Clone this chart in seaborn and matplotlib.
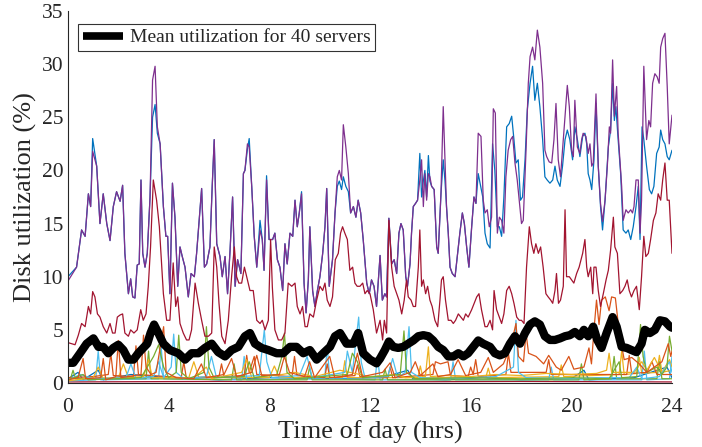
import numpy as np
import pandas as pd
import matplotlib
matplotlib.use("Agg")
import matplotlib.pyplot as plt
import seaborn as sns

# ---------------- data (hours, % utilization) ----------------
purple_t = [0, 0.34, 0.54, 0.68, 0.81, 0.90, 0.98, 1.14, 1.27, 1.40, 1.54, 1.67, 1.80, 1.93, 2.07, 2.17, 2.26, 2.40, 2.49, 2.57,
            2.66, 2.75, 2.83, 2.90, 2.97, 3.06, 3.15, 3.26, 3.36, 3.46, 3.55, 3.66, 3.79, 3.89, 3.96, 4.05, 4.15, 4.25, 4.36, 4.45,
            4.54, 4.65, 4.78, 4.89, 5.02, 5.11, 5.22, 5.31, 5.42, 5.51, 5.64, 5.73, 5.81, 5.91, 6.04, 6.13, 6.24, 6.34, 6.44, 6.54,
            6.64, 6.74, 6.87, 6.97, 7.03, 7.13, 7.20, 7.30, 7.40, 7.50, 7.63, 7.72, 7.79, 7.89, 7.99, 8.13, 8.22, 8.32, 8.42, 8.53,
            8.62, 8.71, 8.82, 8.93, 9.02, 9.11, 9.19, 9.28, 9.38, 9.46, 9.55, 9.61, 9.72, 9.81, 9.91, 10.01, 10.12, 10.21, 10.28, 10.38,
            10.51, 10.61, 10.70, 10.78, 10.87, 10.94, 11.04, 11.14, 11.23, 11.34, 11.44, 11.53, 11.63, 11.73, 11.87, 11.97, 12.06, 12.16, 12.26, 12.40,
            12.49, 12.59, 12.66, 12.75, 12.86, 12.96, 13.06, 13.15, 13.23, 13.32, 13.42, 13.49, 13.59, 13.65, 13.72, 13.81, 13.89, 13.98, 14.05, 14.12,
            14.18, 14.25, 14.32, 14.38, 14.45, 14.55, 14.65, 14.71, 14.82, 14.91, 14.98, 15.04, 15.11, 15.18, 15.27, 15.38, 15.48, 15.57, 15.67, 15.75,
            15.84, 15.93, 16.04, 16.13, 16.21, 16.30, 16.41, 16.50, 16.57, 16.66, 16.74, 16.83, 16.90, 16.98, 17.06, 17.14, 17.23, 17.32, 17.40, 17.49,
            17.59, 17.67, 17.76, 17.85, 17.93, 18.02, 18.09, 18.20, 18.29, 18.36, 18.46, 18.55, 18.65, 18.75, 18.86, 18.95, 19.02, 19.12, 19.22, 19.31,
            19.39, 19.48, 19.57, 19.65, 19.75, 19.84, 19.92, 20.01, 20.08, 20.14, 20.24, 20.34, 20.41, 20.47, 20.58, 20.67, 20.74, 20.81, 20.87, 20.98,
            21.07, 21.16, 21.24, 21.34, 21.43, 21.51, 21.56, 21.64, 21.71, 21.80, 21.86, 21.93, 22.00, 22.06, 22.17, 22.26, 22.36, 22.43, 22.49, 22.57,
            22.66, 22.73, 22.79, 22.88, 22.99, 23.08, 23.15, 23.23, 23.32, 23.41, 23.49, 23.55, 23.63, 23.72, 23.81, 23.89, 24.0]
purple_v = [9.6, 10.9, 14.4, 13.8, 17.8, 16.6, 21.8, 20.4, 15.0, 17.8, 15.0, 13.4, 16.6, 18.0, 17.1, 18.6, 12.2, 8.4, 9.8, 8.1,
            8.0, 11.1, 11.2, 19.1, 12.2, 10.9, 12.2, 17.5, 28.5, 29.8, 24.1, 22.5, 16.6, 13.8, 13.8, 8.4, 18.8, 15.6, 9.1, 12.8,
            11.9, 10.9, 8.1, 10.3, 10.0, 12.2, 15.6, 18.3, 10.9, 11.2, 12.8, 18.5, 22.9, 13.1, 11.9, 10.0, 11.9, 8.4, 12.5, 17.5,
            9.1, 11.6, 10.3, 19.7, 20.0, 22.5, 22.2, 18.5, 13.8, 10.9, 14.4, 13.5, 10.6, 19.1, 13.5, 13.5, 14.1, 11.6, 10.9, 8.7,
            13.1, 11.2, 14.1, 13.8, 17.2, 14.7, 16.0, 17.8, 9.4, 6.6, 9.7, 14.7, 8.7, 7.2, 8.7, 10.0, 12.2, 14.7, 18.3, 9.1,
            11.6, 16.0, 19.4, 20.0, 19.1, 24.3, 22.2, 19.7, 16.0, 16.6, 15.6, 17.2, 16.0, 13.5, 9.4, 8.4, 9.7, 9.1, 7.2, 12.0,
            7.8, 8.4, 8.1, 15.5, 11.2, 11.6, 10.3, 14.1, 15.0, 14.4, 10.0, 9.1, 11.2, 14.1, 16.6, 16.9, 17.2, 19.1, 21.0, 16.6,
            19.7, 17.2, 19.7, 19.4, 18.5, 18.2, 12.8, 12.2, 17.8, 26.0, 21.0, 16.6, 14.1, 10.9, 10.3, 10.0, 12.2, 14.1, 16.0, 15.0,
            12.8, 10.9, 14.7, 17.5, 16.9, 23.5, 23.2, 17.2, 16.0, 16.3, 14.7, 15.6, 25.8, 25.4, 14.1, 15.6, 15.3, 14.1, 19.4, 21.9,
            22.9, 23.2, 20.7, 19.1, 17.2, 15.0, 15.3, 21.9, 28.2, 30.7, 31.6, 30.4, 33.2, 31.6, 28.2, 21.9, 21.3, 20.8, 20.7, 22.9,
            26.3, 21.0, 19.4, 21.9, 25.1, 28.0, 26.0, 21.9, 21.3, 26.6, 22.2, 21.6, 22.9, 23.5, 23.2, 21.6, 22.5, 20.4, 20.7, 27.2,
            20.4, 16.9, 15.2, 17.2, 20.4, 24.1, 23.5, 30.4, 25.1, 27.9, 23.5, 21.0, 18.5, 15.3, 16.3, 16.0, 16.3, 16.0, 16.6, 19.1,
            19.1, 14.1, 17.2, 29.8, 22.9, 24.7, 24.1, 28.2, 29.1, 28.8, 28.2, 31.6, 32.4, 32.9, 27.9, 22.5, 25.2]

blue_t = [0, 0.34, 0.54, 0.68, 0.81, 0.90, 0.98, 1.14, 1.27, 1.40, 1.54, 1.67, 1.80, 1.93, 2.07, 2.17, 2.26, 2.40, 2.49, 2.57,
          2.66, 2.75, 2.83, 2.90, 2.97, 3.06, 3.15, 3.26, 3.36, 3.46, 3.55, 3.66, 3.79, 3.89, 3.96, 4.05, 4.15, 4.25, 4.36, 4.45,
          4.54, 4.65, 4.78, 4.89, 5.02, 5.11, 5.22, 5.31, 5.42, 5.51, 5.64, 5.73, 5.81, 5.91, 6.04, 6.13, 6.24, 6.34, 6.44, 6.54,
          6.64, 6.74, 6.87, 6.97, 7.03, 7.13, 7.20, 7.30, 7.40, 7.50, 7.63, 7.72, 7.79, 7.89, 7.99, 8.13, 8.22, 8.32, 8.42, 8.53,
          8.62, 8.71, 8.82, 8.93, 9.02, 9.11, 9.19, 9.28, 9.38, 9.46, 9.55, 9.61, 9.72, 9.81, 9.91, 10.01, 10.12, 10.21, 10.28, 10.38,
          10.51, 10.61, 10.70, 10.78, 10.87, 10.94, 11.04, 11.14, 11.23, 11.34, 11.44, 11.53, 11.63, 11.73, 11.87, 11.97, 12.06, 12.16, 12.26, 12.40,
          12.49, 12.59, 12.66, 12.75, 12.86, 12.96, 13.06, 13.15, 13.23, 13.32, 13.42, 13.49, 13.59, 13.65, 13.72, 13.81, 13.89, 13.98, 14.05, 14.12,
          14.18, 14.25, 14.32, 14.38, 14.45, 14.55, 14.65, 14.71, 14.82, 14.91, 14.98, 15.04, 15.11, 15.18, 15.27, 15.38, 15.48, 15.57, 15.67, 15.75,
          15.84, 15.93, 16.04, 16.13, 16.21, 16.30, 16.48, 16.57, 16.66, 16.77, 16.87, 16.96, 17.06, 17.14, 17.23, 17.32, 17.43, 17.53, 17.63, 17.72,
          17.80, 17.89, 17.98, 18.06, 18.16, 18.25, 18.36, 18.46, 18.55, 18.65, 18.75, 18.86, 18.95, 19.04, 19.15, 19.26, 19.35, 19.44, 19.55, 19.65,
          19.75, 19.84, 19.94, 20.05, 20.14, 20.24, 20.34, 20.45, 20.54, 20.61, 20.67, 20.74, 20.81, 20.90, 20.98, 21.07, 21.16, 21.24, 21.34, 21.47,
          21.56, 21.64, 21.71, 21.77, 21.86, 21.96, 22.06, 22.17, 22.26, 22.36, 22.46, 22.57, 22.66, 22.73, 22.81, 22.88, 22.99, 23.10, 23.19, 23.28,
          23.39, 23.49, 23.55, 23.63, 23.72, 23.81, 23.89, 24.0]
blue_v = [10.0, 10.9, 14.4, 13.8, 17.8, 16.6, 23.0, 20.4, 15.0, 17.8, 15.0, 13.4, 16.6, 18.0, 17.1, 18.6, 12.2, 8.4, 9.8, 8.1,
          8.0, 11.1, 11.2, 19.1, 12.2, 10.9, 12.2, 17.5, 25.0, 26.2, 23.5, 22.5, 16.6, 13.8, 13.8, 8.4, 18.8, 15.6, 9.1, 12.8,
          11.9, 10.9, 8.1, 10.3, 10.0, 12.2, 15.6, 18.3, 10.9, 11.2, 12.8, 18.5, 22.9, 13.1, 11.9, 10.0, 11.9, 8.4, 12.5, 17.5,
          9.1, 11.6, 10.3, 19.7, 20.0, 22.0, 23.0, 18.5, 13.8, 10.9, 15.3, 13.5, 10.6, 19.5, 13.5, 13.5, 14.1, 11.6, 10.9, 8.7,
          13.1, 11.2, 14.1, 13.8, 17.2, 14.7, 16.0, 18.0, 9.4, 6.6, 9.7, 14.7, 8.7, 7.2, 8.7, 10.0, 12.2, 14.7, 18.3, 9.1,
          11.6, 16.0, 18.5, 19.0, 18.2, 19.4, 18.5, 18.0, 16.0, 16.6, 15.6, 17.2, 16.0, 13.5, 9.4, 8.4, 9.7, 9.1, 7.2, 12.0,
          7.8, 8.4, 8.1, 15.5, 11.2, 11.6, 10.3, 14.1, 15.0, 14.4, 10.0, 9.1, 11.2, 14.1, 16.6, 16.9, 17.2, 21.6, 17.5, 19.0,
          20.0, 17.5, 21.4, 19.0, 18.5, 18.2, 12.8, 12.2, 17.8, 21.0, 19.0, 16.6, 14.1, 10.9, 10.3, 10.0, 12.2, 14.1, 16.0, 15.0,
          12.8, 10.9, 14.7, 17.5, 16.9, 19.7, 17.5, 14.1, 13.1, 12.7, 22.5, 20.0, 14.7, 14.7, 13.8, 17.5, 24.1, 24.4, 25.1, 22.9,
          20.7, 21.0, 17.2, 17.5, 21.0, 25.7, 28.2, 29.8, 26.6, 28.2, 26.0, 22.9, 19.4, 19.1, 18.8, 19.1, 20.4, 19.1, 18.5, 20.4,
          22.9, 23.8, 22.9, 21.0, 24.1, 22.9, 21.3, 23.2, 23.5, 22.5, 19.7, 19.1, 18.2, 21.0, 26.3, 20.4, 16.6, 14.4, 17.2, 22.2,
          23.8, 28.2, 24.7, 26.0, 22.9, 19.7, 14.4, 14.1, 14.4, 13.5, 14.7, 16.6, 18.5, 13.5, 24.1, 22.9, 20.4, 18.2, 17.8, 18.5,
          21.6, 22.2, 23.8, 22.9, 22.5, 21.3, 21.0, 21.9]

darkred_t = [0, 0.28, 0.41, 0.54, 0.68, 0.81, 0.90, 0.98, 1.07, 1.17, 1.27, 1.40, 1.54, 1.67, 1.77, 1.87, 1.96, 2.07, 2.17, 2.26,
             2.40, 2.49, 2.62, 2.75, 2.89, 2.99, 3.10, 3.19, 3.28, 3.39, 3.52, 3.63, 3.79, 3.92, 4.05, 4.18, 4.28, 4.36, 4.45, 4.58,
             4.71, 4.81, 4.91, 5.05, 5.18, 5.31, 5.44, 5.58, 5.71, 5.81, 5.91, 6.00, 6.11, 6.24, 6.37, 6.50, 6.61, 6.70, 6.79, 6.90,
             7.01, 7.10, 7.23, 7.36, 7.50, 7.63, 7.72, 7.83, 7.96, 8.05, 8.12, 8.22, 8.36, 8.49, 8.62, 8.75, 8.89, 9.02, 9.11, 9.22,
             9.32, 9.42, 9.51, 9.61, 9.75, 9.88, 10.01, 10.12, 10.21, 10.30, 10.41, 10.51, 10.62, 10.74, 10.83, 10.91, 11.00, 11.10, 11.20, 11.31,
             11.40, 11.49, 11.60, 11.71, 11.80, 11.89, 12.00, 12.13, 12.26, 12.40, 12.50, 12.57, 12.66, 12.75, 12.86, 12.96, 13.06, 13.15, 13.26, 13.36,
             13.45, 13.52, 13.63, 13.72, 13.81, 13.92, 13.98, 14.05, 14.12, 14.21, 14.29, 14.38, 14.47, 14.58, 14.69, 14.78, 14.84, 14.91, 15.00, 15.11,
             15.22, 15.31, 15.40, 15.51, 15.61, 15.71, 15.80, 15.90, 16.04, 16.14, 16.24, 16.33, 16.43, 16.57, 16.66, 16.77, 16.87, 16.93, 17.03, 17.14,
             17.23, 17.32, 17.43, 17.53, 17.63, 17.72, 17.83, 17.93, 18.02, 18.12, 18.22, 18.33, 18.42, 18.51, 18.59, 18.69, 18.78, 18.88, 18.99, 19.08,
             19.18, 19.26, 19.35, 19.41, 19.49, 19.57, 19.68, 19.75, 19.81, 19.92, 20.01, 20.10, 20.21, 20.31, 20.45, 20.54, 20.61, 20.67, 20.77, 20.85,
             20.90, 20.98, 21.07, 21.16, 21.27, 21.38, 21.47, 21.56, 21.67, 21.73, 21.83, 21.93, 22.04, 22.13, 22.22, 22.30, 22.39, 22.49, 22.59, 22.70,
             22.79, 22.88, 22.96, 23.06, 23.15, 23.26, 23.36, 23.45, 23.55, 23.63, 23.72, 23.81, 23.89, 24.0]
darkred_v = [3.8, 3.6, 4.5, 5.6, 5.3, 7.2, 6.5, 8.6, 8.1, 6.5, 6.2, 5.3, 4.7, 5.6, 4.7, 4.7, 6.2, 6.4, 6.5, 4.7,
             4.4, 5.0, 4.7, 5.0, 6.9, 5.9, 6.5, 9.1, 12.8, 19.1, 17.2, 14.7, 8.4, 5.9, 5.9, 11.3, 7.2, 8.1, 5.6, 4.7,
             4.05, 4.05, 5.0, 9.4, 7.5, 5.9, 4.4, 4.4, 4.7, 12.8, 10.9, 7.5, 4.4, 3.7, 5.9, 10.0, 12.8, 10.0, 9.4, 9.4,
             10.9, 10.0, 8.7, 8.7, 5.9, 5.6, 5.9, 5.0, 5.9, 13.5, 9.0, 5.0, 4.05, 4.05, 4.7, 9.4, 9.1, 9.4, 7.2, 6.5,
             7.2, 5.3, 5.3, 6.5, 6.2, 7.8, 9.1, 8.7, 9.4, 7.8, 7.2, 8.1, 11.6, 12.2, 14.1, 14.7, 14.1, 13.5, 10.6, 10.9,
             9.4, 9.1, 9.1, 9.4, 8.4, 8.7, 8.4, 6.9, 4.7, 5.9, 4.05, 5.9, 4.7, 15.3, 10.9, 9.1, 8.4, 7.8, 6.5, 7.8,
             9.7, 8.1, 7.8, 7.2, 7.2, 10.9, 14.4, 9.1, 9.7, 8.4, 9.1, 7.8, 7.2, 5.9, 5.3, 7.8, 9.7, 10.0, 7.8, 5.9,
             5.9, 5.6, 5.9, 6.5, 6.2, 5.9, 6.5, 6.2, 6.9, 7.5, 8.1, 8.4, 6.9, 5.3, 5.3, 5.9, 5.0, 8.7, 6.9, 6.2,
             5.6, 6.5, 8.7, 9.1, 8.4, 7.5, 6.2, 5.9, 5.9, 5.6, 10.9, 14.7, 13.1, 12.2, 13.1, 12.2, 12.8, 10.9, 8.4, 8.1,
             7.8, 7.5, 8.7, 10.3, 7.5, 7.8, 9.1, 16.3, 10.0, 10.0, 9.7, 9.4, 10.3, 10.9, 12.2, 13.5, 10.9, 10.0, 10.9, 8.4,
             10.9, 10.9, 8.7, 7.2, 8.4, 9.7, 10.6, 12.5, 15.6, 12.8, 12.2, 8.4, 8.7, 9.1, 9.7, 8.7, 8.1, 8.7, 9.1, 6.9,
             10.0, 13.8, 11.9, 12.2, 13.5, 15.3, 16.0, 17.8, 17.2, 19.1, 20.7, 17.2, 17.2, 12.2]

orange_t = [0, 0.4, 0.6, 0.7, 1.3, 1.4, 1.5, 1.9, 2.0, 2.1, 2.9, 3.0, 3.1, 3.3, 3.5, 3.8, 3.9, 4.3, 5.0, 5.3,
            5.5, 6.2, 6.5, 6.7, 7.3, 7.5, 7.7, 8.4, 8.6, 8.8, 9.4, 9.6, 9.8, 10.4, 10.6, 11.3, 11.5, 11.7, 12.5, 12.8,
            13.0, 13.6, 13.8, 14.0, 14.5, 14.7, 15.2, 15.5, 15.8, 16.4, 16.7, 16.9, 17.3, 17.6, 17.8, 17.9, 18.1, 18.2, 18.3, 18.6,
            18.9, 19.1, 19.4, 19.6, 19.9, 20.1, 20.5, 20.7, 20.8, 20.9, 21.0, 21.1, 21.2, 21.35, 21.5, 21.6, 21.75, 21.9, 22.1, 22.4,
            22.7, 23.0, 23.3, 23.6, 23.85, 23.95, 24.0]
orange_v = [0.3, 0.5, 2.3, 0.4, 0.5, 2.3, 0.3, 0.6, 4.0, 0.5, 0.8, 4.5, 1.5, 0.8, 1.0, 5.3, 1.0, 0.5, 0.4, 1.8,
            0.5, 0.8, 2.3, 0.6, 1.0, 2.6, 0.7, 0.8, 2.5, 1.0, 0.6, 2.0, 0.5, 2.5, 0.5, 0.8, 2.8, 0.6, 1.0, 1.9,
            0.5, 1.0, 2.0, 0.7, 1.8, 0.6, 0.8, 2.2, 0.7, 1.0, 2.4, 1.0, 1.8, 3.5, 5.6, 2.5, 2.0, 4.7, 2.8, 2.5,
            1.8, 2.6, 1.5, 1.2, 2.5, 1.3, 1.5, 3.3, 1.8, 5.0, 7.8, 5.5, 7.8, 8.1, 6.8, 8.1, 8.0, 4.8, 2.2, 2.4,
            1.8, 1.0, 1.5, 2.0, 3.7, 2.5, 3.0]

orange2_t = [0, 1.0, 1.6, 1.7, 1.8, 2.6, 2.7, 2.8, 4.5, 4.6, 4.7, 6.0, 6.1, 6.2, 7.0, 7.1, 7.2, 7.4, 7.5, 8.9,
             9.0, 9.1, 10.2, 10.3, 10.4, 11.4, 11.5, 11.6, 12.7, 12.8, 12.9, 14.5, 14.6, 14.8, 15.1, 15.2, 15.9, 16.0, 16.1, 16.2,
             16.3, 17.4, 17.5, 17.6, 19.0, 19.1, 19.2, 22.2, 22.3, 22.4, 23.0, 23.2, 23.4, 24.0]
orange2_v = [0.5, 0.6, 0.8, 2.8, 0.7, 0.6, 3.5, 0.8, 0.5, 2.0, 0.5, 0.6, 1.8, 0.6, 0.7, 2.6, 1.0, 2.5, 0.8, 0.6,
             2.5, 0.7, 0.5, 1.8, 0.5, 0.7, 1.7, 0.6, 0.5, 1.5, 0.5, 0.8, 2.0, 1.8, 2.0, 0.7, 0.6, 1.5, 0.8, 2.2,
             0.6, 0.8, 2.8, 1.0, 1.0, 2.2, 0.8, 0.8, 2.6, 0.9, 1.0, 2.0, 0.8, 0.8]

yellow_t = [0, 1.0, 1.2, 1.4, 3.0, 3.2, 3.35, 5.0, 5.5, 5.7, 6.9, 7.1, 7.3, 8.5, 9.0, 9.8, 10.8, 12.0, 13.0, 13.4,
            14.2, 14.32, 14.4, 15.0, 16.0, 17.0, 18.0, 19.0, 20.0, 21.0, 21.4, 21.5, 21.6, 22.5, 22.8, 23.0, 23.3, 23.6, 23.9, 24.0]
yellow_v = [0.2, 0.5, 1.5, 0.4, 0.6, 2.2, 0.5, 0.5, 1.5, 0.4, 1.0, 2.2, 0.5, 0.8, 1.0, 0.6, 1.2, 0.6, 0.8, 0.5,
            0.6, 3.4, 0.6, 0.7, 0.6, 0.8, 0.7, 0.9, 0.8, 0.9, 1.2, 2.8, 1.0, 1.0, 2.0, 1.2, 2.4, 1.0, 2.2, 1.5]

yellow2_t = [0, 2.0, 2.2, 2.4, 4.8, 5.0, 5.2, 8.0, 8.2, 8.4, 10.9, 11.0, 11.1, 13.9, 14.0, 14.1, 16.6, 16.7, 16.8, 19.5,
             19.6, 19.7, 21.9, 22.0, 22.1, 22.6, 22.7, 22.8, 23.4, 23.5, 23.6, 24.0]
yellow2_v = [0.4, 0.5, 1.8, 0.5, 0.5, 2.0, 0.5, 0.5, 1.6, 0.5, 0.5, 2.1, 0.5, 0.5, 1.6, 0.5, 0.5, 1.4, 0.5, 0.6,
             1.7, 0.6, 0.8, 3.0, 0.8, 0.9, 2.4, 0.9, 1.0, 2.6, 1.0, 1.2]

green_t = [0, 0.6, 0.8, 2.9, 3.4, 3.6, 3.8, 4.0, 4.3, 4.4, 4.5, 4.8, 5.4, 5.5, 5.6, 5.8, 7.0, 7.2, 7.4, 8.3,
           8.5, 8.6, 8.7, 9.0, 11.1, 11.3, 11.5, 11.7, 13.2, 13.35, 13.45, 13.8, 16.0, 18.0, 20.0, 21.5, 21.9, 22.0, 22.6, 22.75,
           22.85, 23.0, 23.4, 23.6, 23.8, 23.9, 24.0]
green_v = [0.3, 0.8, 0.3, 0.5, 2.5, 3.6, 1.5, 0.5, 1.0, 4.5, 1.0, 0.4, 1.0, 5.3, 1.5, 0.5, 0.6, 2.0, 0.5, 0.8,
           2.5, 4.7, 1.0, 0.4, 0.8, 2.8, 2.0, 0.5, 0.8, 4.9, 1.0, 0.4, 0.5, 0.4, 0.5, 0.4, 2.0, 0.5, 0.6, 5.5,
           2.5, 1.0, 1.5, 0.8, 1.5, 4.4, 3.0]

green2_t = [0, 0.1, 0.2, 0.3, 3.1, 3.2, 3.3, 6.5, 6.6, 6.7, 9.5, 9.6, 9.7, 12.5, 12.6, 12.7, 20.3, 20.4, 20.5, 21.6,
            21.7, 21.8, 23.4, 23.5, 23.6, 24.0]
green2_v = [0.3, 0.4, 1.2, 0.4, 0.4, 3.0, 0.4, 0.3, 1.8, 0.3, 0.3, 1.5, 0.3, 0.3, 1.3, 0.3, 0.3, 1.8, 0.3, 0.4,
            2.5, 0.4, 0.4, 2.0, 0.4, 0.4]

cyan_t = [0, 0.5, 1.0, 2.3, 2.5, 2.7, 3.4, 3.6, 3.8, 4.1, 4.2, 4.3, 4.6, 5.5, 5.7, 5.9, 7.6, 7.8, 7.9, 8.1,
          9.2, 9.5, 9.7, 11.0, 11.1, 11.3, 11.55, 11.65, 11.8, 12.7, 12.9, 13.1, 13.4, 13.55, 13.65, 14.0, 15.0, 16.0, 17.0, 17.7,
          17.8, 17.9, 18.2, 20.0, 21.0, 22.3, 22.6, 22.8, 23.5, 23.9, 24.0]
cyan_v = [0.3, 0.8, 0.4, 0.5, 1.8, 0.4, 0.6, 2.0, 0.5, 1.5, 4.6, 1.0, 0.4, 0.6, 2.5, 0.5, 0.7, 5.0, 2.0, 0.5,
          0.7, 2.5, 0.5, 1.0, 3.0, 1.0, 6.2, 2.0, 0.5, 0.6, 2.3, 0.5, 1.0, 5.3, 1.0, 0.5, 0.4, 0.5, 0.6, 1.5,
          5.9, 1.0, 0.5, 0.4, 0.5, 0.5, 1.5, 0.4, 0.6, 2.0, 1.0]

cyan2_t = [0, 1.1, 1.2, 1.3, 3.6, 3.7, 3.8, 6.9, 7.0, 7.1, 10.2, 10.3, 10.4, 12.2, 12.3, 12.4, 15.2, 15.3, 15.4, 19.1,
           19.2, 19.3, 22.8, 22.9, 23.0, 23.9, 24.0]
cyan2_v = [0.2, 0.3, 3.0, 0.3, 0.4, 3.5, 0.4, 0.3, 2.5, 0.3, 0.4, 3.5, 0.4, 0.3, 2.5, 0.3, 0.3, 2.0, 0.3, 0.3,
           1.5, 0.3, 0.3, 3.0, 0.3, 0.4, 2.5]

lowblue_t = [0, 0.4, 0.6, 1.2, 1.4, 2.5, 4.0, 6.0, 8.0, 10.0, 12.5, 13.5, 13.7, 15.0, 16.5, 18.0, 20.0, 20.5, 20.7, 22.5, 23.8, 24.0]
lowblue_v = [0.4, 1.0, 0.3, 1.2, 0.3, 0.8, 0.5, 0.3, 0.5, 0.4, 0.5, 1.2, 0.4, 0.3, 0.5, 0.3, 0.4, 1.2, 0.3, 0.5, 1.5, 0.5]

flat_t = [0, 6.0, 12.0, 18.0, 24.0]
flat_v = [0.1, 0.15, 0.1, 0.15, 0.1]

mean_t = [0, 0.21, 0.48, 0.74, 1.01, 1.21, 1.40, 1.60, 1.80, 2.00, 2.20, 2.40, 2.60, 2.79, 2.99, 3.15, 3.28, 3.42, 3.59, 3.79,
          4.05, 4.38, 4.65, 4.91, 5.18, 5.44, 5.71, 5.97, 6.24, 6.50, 6.77, 7.03, 7.23, 7.43, 7.69, 7.96, 8.29, 8.55, 8.82, 9.08,
          9.35, 9.61, 9.88, 10.14, 10.41, 10.61, 10.81, 11.07, 11.34, 11.53, 11.73, 12.00, 12.26, 12.40, 12.59, 12.75, 12.93, 13.12, 13.32, 13.52,
          13.72, 13.92, 14.12, 14.32, 14.51, 14.71, 14.91, 15.11, 15.31, 15.51, 15.71, 15.90, 16.10, 16.30, 16.50, 16.77, 16.96, 17.16, 17.36, 17.56,
          17.76, 17.96, 18.16, 18.36, 18.55, 18.75, 18.95, 19.15, 19.35, 19.55, 19.75, 19.94, 20.14, 20.34, 20.50, 20.67, 20.87, 21.03, 21.20, 21.40,
          21.64, 21.80, 22.00, 22.20, 22.39, 22.59, 22.79, 22.92, 23.12, 23.32, 23.52, 23.72, 23.92, 24.0]
mean_v = [1.9, 1.9, 2.8, 3.7, 4.2, 3.4, 3.4, 2.8, 3.3, 3.6, 3.1, 2.2, 2.2, 2.8, 3.3, 3.7, 4.7, 5.5, 4.7, 3.7,
          3.1, 2.8, 2.2, 2.8, 2.8, 3.3, 3.7, 2.9, 2.5, 3.1, 3.4, 4.4, 4.7, 3.7, 3.3, 3.1, 2.8, 2.8, 3.4, 3.4,
          2.8, 3.1, 2.2, 2.8, 3.4, 4.4, 4.7, 3.7, 3.7, 4.7, 2.8, 2.2, 1.85, 2.3, 3.1, 3.9, 3.4, 3.3, 3.4, 3.7,
          4.0, 4.4, 4.5, 4.4, 4.0, 3.4, 3.1, 2.5, 2.5, 2.8, 2.5, 2.8, 3.4, 4.0, 3.7, 3.4, 2.8, 2.6, 2.8, 3.7,
          4.4, 3.7, 4.7, 5.5, 5.8, 5.5, 4.4, 4.05, 4.05, 4.2, 4.4, 4.5, 4.8, 4.4, 5.0, 4.4, 5.3, 4.05, 3.3, 4.7,
          6.2, 5.3, 3.4, 3.3, 3.1, 2.9, 3.7, 5.0, 4.7, 5.0, 5.9, 5.8, 5.3, 5.2]

x_ticks = [0, 4, 8, 12, 16, 20, 24]
y_ticks = [0, 5, 10, 15, 20, 25, 30, 35]

# ---------------- build long table ----------------
series = [
    ("flat_red", flat_t, flat_v, "#A2142F"),
    ("lowblue", lowblue_t, lowblue_v, "#0072BD"),
    ("yellow2", yellow2_t, yellow2_v, "#EDB120"),
    ("cyan2", cyan2_t, cyan2_v, "#4DBEEE"),
    ("green2", green2_t, green2_v, "#77AC30"),
    ("orange2", orange2_t, orange2_v, "#D95319"),
    ("yellow", yellow_t, yellow_v, "#EDB120"),
    ("cyan", cyan_t, cyan_v, "#4DBEEE"),
    ("green", green_t, green_v, "#77AC30"),
    ("orange", orange_t, orange_v, "#D95319"),
    ("blue", blue_t, blue_v, "#0072BD"),
    ("purple", purple_t, purple_v, "#7E2F8E"),
    ("darkred", darkred_t, darkred_v, "#A2142F"),
]
frames = []
for name, t, v, c in series:
    frames.append(pd.DataFrame({"server": name, "t": t, "v": v}))
df = pd.concat(frames, ignore_index=True)
palette = {name: c for name, _, _, c in series}
order = [name for name, _, _, _ in series]

sns.set_theme(style="white")
plt.rcParams['font.family'] = ['Liberation Serif', 'DejaVu Serif']

fig = plt.figure(figsize=(7.02, 4.47), dpi=100)
ax = fig.add_axes([68 / 702, 1 - 383 / 447, 604 / 702, 372 / 447])

sns.lineplot(data=df, x="t", y="v", hue="server", hue_order=order, palette=palette,
             estimator=None, sort=False, linewidth=0.9, legend=False, ax=ax)
mean_df = pd.DataFrame({"t": mean_t, "v": mean_v})
sns.lineplot(data=mean_df, x="t", y="v", color="black", linewidth=6, estimator=None,
             sort=False, ax=ax, label="Mean utilization for 40 servers")

ax.set_xlim(0, 24)
ax.set_ylim(0, 35)
ax.set_xticks(x_ticks)
ax.set_yticks(y_ticks)
ax.set_xlabel("Time of day (hrs)", fontsize=19, color="#262626", labelpad=3)
ax.set_ylabel("Disk utilization (%)", fontsize=19, color="#262626", labelpad=3)
ax.tick_params(direction="in", length=4, width=0.8, labelsize=15.5, colors="#262626")
ax.tick_params(axis="x", pad=10.5)
ax.tick_params(axis="y", pad=3.5)
for s in ["top", "right"]:
    ax.spines[s].set_visible(False)
for s in ["left", "bottom"]:
    ax.spines[s].set_color("#262626")
    ax.spines[s].set_linewidth(0.8)

leg = ax.legend(loc="upper left", bbox_to_anchor=(0.0166, 0.965), frameon=True, fancybox=False,
                edgecolor="black", fontsize=14, handlelength=2.05, borderaxespad=0,
                borderpad=0.25, handletextpad=0.35)
leg.get_frame().set_linewidth(0.8)
for h in leg.get_lines():
    h.set_solid_capstyle("butt")
    h.set_linewidth(5.5)

fig.savefig("out.png", dpi=100)
